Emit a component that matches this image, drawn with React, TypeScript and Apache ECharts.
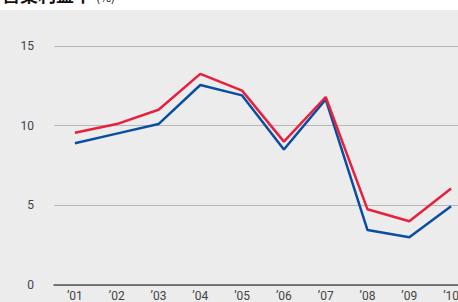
import React, { useEffect, useRef } from "react";
import * as echarts from "echarts";

const categories = ["’01", "’02", "’03", "’04", "’05", "’06", "’07", "’08", "’09", "’10"];
const redValues = [9.55, 10.1, 11.0, 13.25, 12.2, 9.0, 11.8, 4.75, 4.0, 6.05];
const blueValues = [8.9, 9.5, 10.1, 12.55, 11.9, 8.5, 11.65, 3.45, 3.0, 4.95];
const yTicks = [0, 5, 10, 15];
const title = "営業利益率";
const unit = "(%)";

export default function App() {
  const ref = useRef<HTMLDivElement>(null);
  useEffect(() => {
    if (!ref.current) return;
    const chart = echarts.init(ref.current, null, { renderer: "svg" });
    chart.setOption({
      animation: false,
      graphic: [
        {
          type: "rect",
          shape: { x: 0, y: 10, width: 480, height: 292 },
          style: { fill: "#ebeceb" },
          z: -10,
          silent: true,
        },
        {
          type: "text",
          x: 2,
          y: -15,
          style: {
            text: title,
            font: "bold 18px 'Noto Sans CJK JP'",
            fill: "#111",
          },
          z: 5,
        },
        {
          type: "text",
          x: 96,
          y: -10,
          style: {
            text: unit,
            font: "12px 'Noto Sans CJK JP'",
            fill: "#111",
          },
          z: 5,
        },
      ],
      grid: { left: 54, right: 8, top: 46, bottom: 16 },
      xAxis: {
        type: "category",
        data: categories,
        boundaryGap: true,
        axisLine: { lineStyle: { color: "#555", width: 1.5 } },
        axisTick: { show: false },
        axisLabel: {
          color: "#444",
          fontSize: 12,
          margin: 5,
          fontFamily: "Roboto, 'Noto Sans', sans-serif",
        },
      },
      yAxis: {
        type: "value",
        min: yTicks[0],
        max: yTicks[yTicks.length - 1],
        interval: 5,
        axisLine: { show: false },
        axisTick: { show: false },
        axisLabel: {
          color: "#444",
          fontSize: 12,
          margin: 20,
          fontFamily: "Roboto, 'Noto Sans', sans-serif",
        },
        splitLine: { lineStyle: { color: "#b8b8b8", width: 1 } },
      },
      series: [
        {
          type: "line",
          data: blueValues,
          symbol: "none",
          lineStyle: { color: "#0a4ea2", width: 2.5 },
          z: 3,
        },
        {
          type: "line",
          data: redValues,
          symbol: "none",
          lineStyle: { color: "#e8203e", width: 2.5 },
          z: 4,
        },
      ],
    });
    return () => chart.dispose();
  }, []);
  return (
    <div
      style={{
        position: "fixed",
        left: 0,
        top: 0,
        width: 458,
        height: 302,
        overflow: "hidden",
        background: "#fff",
      }}
    >
      <div ref={ref} style={{ width: 480, height: 302 }} />
    </div>
  );
}
